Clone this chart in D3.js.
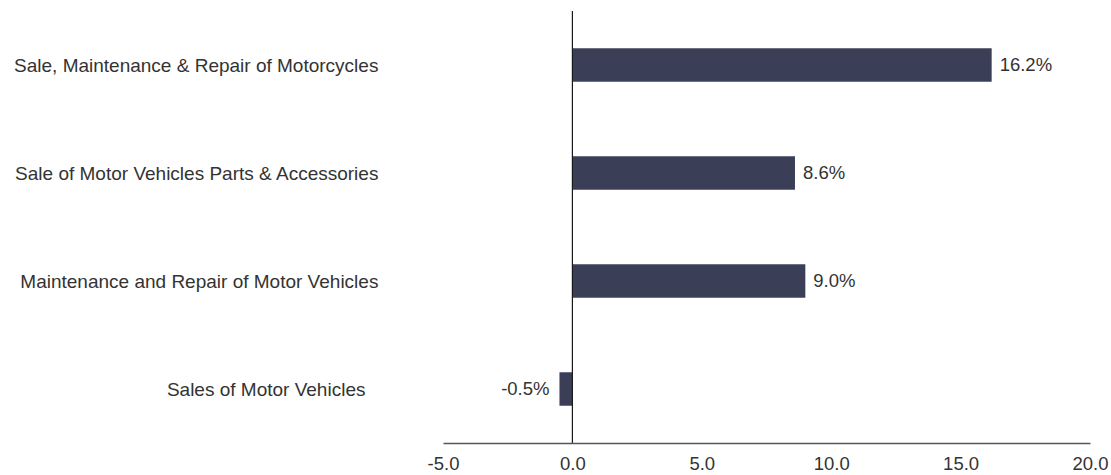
<!DOCTYPE html>
<html>
<head>
<meta charset="utf-8">
<script src="https://cdn.jsdelivr.net/npm/d3@7/dist/d3.min.js"></script>
<style>
  html, body { margin: 0; padding: 0; background: #fff; }
  svg { display: block; font-family: "Liberation Sans", Arial, sans-serif; }
</style>
</head>
<body>
<svg id="chart" width="1111" height="475"></svg>
<script>
// Year-on-year growth by motor trade segment (%)
const categories = [
  "Sale, Maintenance & Repair of Motorcycles",
  "Sale of Motor Vehicles Parts & Accessories",
  "Maintenance and Repair of Motor Vehicles",
  "Sales of Motor Vehicles"
];
const values = [16.2, 8.6, 9.0, -0.5];
const tickValues = [-5, 0, 5, 10, 15, 20];

const svg = d3.select("#chart");
const plotLeft = 443, plotRight = 1090, plotTop = 11, plotBottom = 443;
const fontSize = 18.5;

const x = d3.scaleLinear().domain([-5, 20]).range([plotLeft, plotRight]);
const y = d3.scaleBand()
  .domain(categories)
  .range([plotTop, plotBottom])
  .paddingInner(0.69)
  .paddingOuter(0.345);

const data = categories.map((c, i) => ({ category: c, value: values[i] }));
const fmt = v => d3.format(".1f")(v).replace("\u2212", "-");

// Bars
svg.append("g").selectAll("rect")
  .data(data)
  .join("rect")
  .attr("x", d => x(Math.min(0, d.value)))
  .attr("y", d => y(d.category))
  .attr("width", d => Math.abs(x(d.value) - x(0)))
  .attr("height", y.bandwidth())
  .attr("fill", "#3a3e57");

// Zero line
svg.append("line")
  .attr("x1", x(0)).attr("x2", x(0))
  .attr("y1", plotTop).attr("y2", plotBottom)
  .attr("stroke", "#1a1a1a")
  .attr("stroke-width", 1.2);

// Bottom axis
const axis = svg.append("g")
  .attr("transform", `translate(0,${plotBottom})`)
  .call(d3.axisBottom(x).tickValues(tickValues).tickSize(0).tickPadding(14)
    .tickFormat(fmt));
axis.select(".domain").attr("stroke", "#555").attr("stroke-width", 1.5);
axis.selectAll("text")
  .attr("font-size", fontSize)
  .attr("fill", "#333")
  .attr("font-family", "Liberation Sans, Arial, sans-serif");

// Category labels, anchored a fixed distance left of each bar's start
svg.append("g").selectAll("text")
  .data(data)
  .join("text")
  .attr("x", d => x(Math.min(0, d.value)) - 194)
  .attr("y", d => y(d.category) + y.bandwidth() / 2)
  .attr("dy", "0.35em")
  .attr("text-anchor", "end")
  .attr("font-size", 19)
  .attr("fill", "#333")
  .text(d => d.category);

// Value labels
svg.append("g").selectAll("text")
  .data(data)
  .join("text")
  .attr("x", d => d.value >= 0 ? x(d.value) + 8 : x(d.value) - 10)
  .attr("y", d => y(d.category) + y.bandwidth() / 2)
  .attr("dy", "0.35em")
  .attr("text-anchor", d => d.value >= 0 ? "start" : "end")
  .attr("font-size", fontSize)
  .attr("fill", "#333")
  .text(d => fmt(d.value) + "%");
</script>
</body>
</html>
